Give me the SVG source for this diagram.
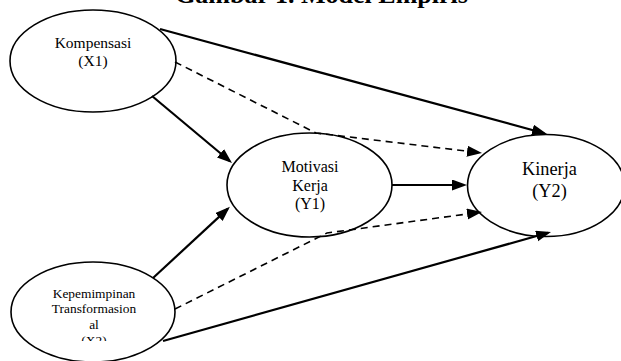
<svg xmlns="http://www.w3.org/2000/svg" width="621" height="361" viewBox="0 0 621 361">
<style>
.node{fill:#fff;stroke:#000;stroke-width:1.6}
.t{font-family:"Liberation Serif","Times New Roman",serif;fill:#000;text-anchor:middle}
.solid{fill:none;stroke:#000;stroke-width:2.2}
.dash{fill:none;stroke:#000;stroke-width:1.6;stroke-dasharray:7 5}
</style>
<defs>
<marker id="ah" markerUnits="userSpaceOnUse" markerWidth="16" markerHeight="12" refX="12" refY="5.5" orient="auto">
<path d="M0,0 L15,5.5 L0,11 z" fill="#000" stroke="none"/>
</marker>
<clipPath id="x2clip"><rect x="0" y="250" width="200" height="91"/></clipPath>
</defs>
<rect width="621" height="361" fill="#fff"/>
<text class="t" x="321.5" y="3" style="font-size:26px;font-weight:bold">Gambar 1. Model Empiris</text>
<g id="X1">
<ellipse class="node" cx="93" cy="61" rx="83" ry="51"/>
<text class="t" x="93" y="48" style="font-size:15.5px">Kompensasi</text>
<text class="t" x="93" y="66" style="font-size:15.5px">(X1)</text>
</g>
<g id="Y1">
<ellipse class="node" cx="309.5" cy="185" rx="82.5" ry="52"/>
<text class="t" x="310" y="172" style="font-size:16px">Motivasi</text>
<text class="t" x="310" y="190.5" style="font-size:16px">Kerja</text>
<text class="t" x="310" y="209" style="font-size:16px">(Y1)</text>
</g>
<g id="Y2">
<ellipse class="node" cx="546" cy="185.5" rx="78.5" ry="51"/>
<text class="t" x="549.5" y="175" style="font-size:18.3px">Kinerja</text>
<text class="t" x="549.5" y="196.5" style="font-size:18.3px">(Y2)</text>
</g>
<g id="X2">
<ellipse class="node" cx="93" cy="312" rx="82" ry="50"/>
<g clip-path="url(#x2clip)">
<text class="t" x="94" y="297.5" style="font-size:13.4px">Kepemimpinan</text>
<text class="t" x="94" y="313" style="font-size:13.4px">Transformasion</text>
<text class="t" x="94" y="329" style="font-size:13.4px">al</text>
<text class="t" x="94" y="345" style="font-size:13.4px">(X2)</text>
</g>
</g>
<g id="connectors">
<path class="solid" d="M160,29 L544.1,133.2" marker-end="url(#ah)"/>
<path class="solid" d="M152,96 L229.7,161" marker-end="url(#ah)"/>
<polyline class="dash" points="175,62 316,133 479,152.6" marker-end="url(#ah)"/>
<path class="solid" d="M392,185 L464,185" marker-end="url(#ah)"/>
<polyline class="dash" points="175,309 327,233 479,212.4" marker-end="url(#ah)"/>
<path class="solid" d="M153,278 L227.7,208.9" marker-end="url(#ah)"/>
<path class="solid" d="M163,341 L548.1,232.8" marker-end="url(#ah)"/>
</g>
</svg>
